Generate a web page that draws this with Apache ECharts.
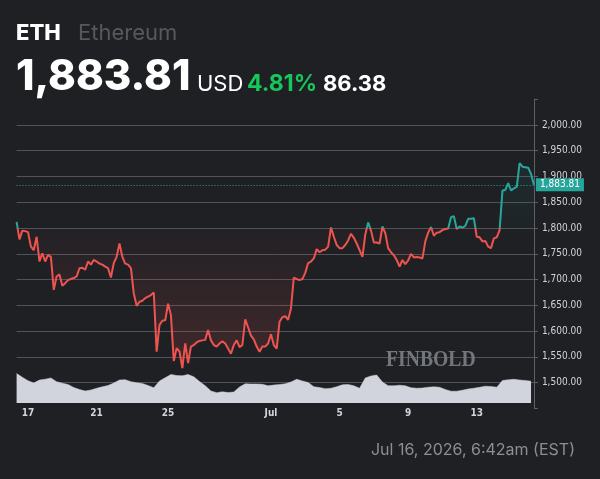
<!DOCTYPE html>
<html style="height: 100%" lang="en">

<head>
  <meta charset="utf-8">
  <script type="text/javascript" src="https://cdn.jsdelivr.net/npm/echarts@6/dist/echarts.min.js"></script>
</head>

<body style="height: 100%; margin: 0; background: #1e2024">
  <div id="container" style="height: 100%"></div>
  <script type="text/javascript">
    // ETH/USD, 4h steps from Jun 16 to Jul 16
    var prices = [
      1812, 1778, 1795, 1794, 1792, 1764, 1757, 1783, 1735, 1751,
      1735, 1748, 1744, 1680, 1706, 1710, 1688, 1693, 1699, 1701,
      1703, 1706, 1722, 1723, 1719, 1735, 1729, 1738, 1735, 1731,
      1729, 1725, 1722, 1704, 1732, 1744, 1770, 1744, 1731, 1729,
      1722, 1673, 1649, 1657, 1659, 1664, 1667, 1670, 1675, 1560,
      1612, 1620, 1621, 1653, 1631, 1542, 1567, 1560, 1528, 1576,
      1538, 1570, 1573, 1578, 1581, 1582, 1583, 1602, 1582, 1573,
      1570, 1576, 1580, 1576, 1566, 1556, 1573, 1582, 1569, 1573,
      1623, 1607, 1591, 1584, 1570, 1560, 1570, 1570, 1576, 1594,
      1573, 1566, 1618, 1627, 1629, 1622, 1644, 1704, 1701, 1699,
      1701, 1713, 1732, 1735, 1741, 1759, 1753, 1757, 1758, 1764,
      1801, 1783, 1767, 1761, 1761, 1767, 1776, 1789, 1781, 1770,
      1757, 1744, 1787, 1811, 1795, 1772, 1772, 1770, 1803, 1790,
      1761, 1753, 1747, 1738, 1725, 1738, 1730, 1737, 1750, 1743,
      1744, 1743, 1741, 1774, 1791, 1802, 1785, 1791, 1792, 1796,
      1798, 1799, 1821, 1823, 1798, 1803, 1801, 1804, 1818, 1818,
      1819, 1783, 1782, 1774, 1775, 1764, 1761, 1780, 1782, 1796,
      1873, 1874, 1887, 1873, 1877, 1880, 1926, 1919, 1918, 1917,
      1905, 1883.81
    ];
    // volume, one value per two price steps
    var volumes = [
      29.5, 25.7, 22.3, 20, 23, 23.8, 25, 21.3, 19.8, 18.5,
      15.5, 13.5, 12, 13, 14.7, 16.2, 17.5, 20, 23, 23.3,
      21.3, 20.3, 19.5, 17.5, 15.2, 22, 25.3, 28.5, 27.5, 27.2,
      28.5, 26.2, 21.5, 17.3, 12, 10.3, 11.2, 10.5, 11, 16,
      19.2, 19, 19, 18.7, 17.2, 18, 18.5, 19.2, 21, 23.7,
      22, 20.5, 16.3, 15.5, 14.3, 14.7, 16.3, 18.2, 18.5, 17.2,
      14.8, 25, 27, 28, 21, 17.3, 17.2, 17.8, 17.2, 15.3,
      14.7, 15, 15.8, 16.2, 15.7, 13.5, 11.8, 11.8, 12.8, 14,
      14.8, 15.7, 16.8, 16.5, 15.8, 22.5, 23.2, 23.7, 23, 22.5,
      21.8
    ];
    var tickLabels = ['17', '21', '25', 'Jul', '5', '9', '13'];
    var tickIndex = [4, 28, 53, 89, 113, 137, 161];
    var baseline = 1800;
    var lastPrice = 1883.81;

    var red = '#ef5350';
    var teal = '#26a69a';
    var textColor = '#d1d4dc';
    var gridColor = '#505358';
    var axisFont = '"Liberation Sans Narrow", "DejaVu Sans Condensed", sans-serif';

    function fmt(v) {
      return v.toLocaleString('en-US', { minimumFractionDigits: 2, maximumFractionDigits: 2 });
    }

    var cats = prices.map(function(p, i) { return String(i); });
    var labelAt = {};
    tickIndex.forEach(function(idx, k) { labelAt[idx] = tickLabels[k]; });

    var splitColors = [];
    for (var v = 1450; v <= 2050; v += 50) {
      splitColors.push(v < 1500 || v > 2000 ? 'rgba(0,0,0,0)' : gridColor);
    }

    var dom = document.getElementById("container");
    var myChart = echarts.init(dom);

    function head(text, left, top, size, color, weight) {
      return {
        text: text, left: left, top: top, padding: 0,
        textStyle: { color: color, fontSize: size, fontWeight: weight, fontFamily: 'Inter' }
      };
    }

    var option = {
      backgroundColor: '#1e2024',
      animation: false,
      title: [
        head('ETH', 16, 22, 22, '#ffffff', 800),
        head('Ethereum', 78, 22, 22, '#55585e', 'normal'),
        head('1,883.81', 16, 56, 42, '#ffffff', 800),
        head('USD', 197, 73, 22, '#ffffff', 'normal'),
        head('4.81%', 247, 73, 23, '#16c75a', 'bold'),
        head('86.38', 323, 73, 22, '#ffffff', 'bold'),
        {
          text: 'Jul 16, 2026, 6:42am (EST)', right: 25, top: 442, padding: 0,
          textStyle: { color: '#8b8e94', fontSize: 16, fontWeight: 'normal', fontFamily: 'Inter' }
        }
      ],
      graphic: [{
        type: 'text', left: 386, top: 348, z: 10, scaleX: 0.82,
        style: { text: 'FINBOLD', font: 'bold 24px "Liberation Serif"', fill: '#73767b' }
      }],
      visualMap: {
        show: false,
        seriesIndex: 0,
        dimension: 1,
        pieces: [
          { gte: 1000, lt: baseline, color: red },
          { gte: baseline, lte: 3000, color: teal }
        ]
      },
      grid: [
        { left: 16.6, width: 517.3, top: 99.2, height: 309.2 },
        { left: 16.6, width: 517.3, top: 371, height: 32 }
      ],
      xAxis: [{
        type: 'category', gridIndex: 0, data: cats, boundaryGap: false, show: false
      }, {
        type: 'category', gridIndex: 1, data: cats, boundaryGap: false,
        axisLine: { show: false }, axisTick: { show: false },
        axisLabel: {
          color: textColor, fontSize: 10, fontWeight: 'bold', margin: 5, fontFamily: axisFont,
          interval: function(i) { return labelAt[i] !== undefined; },
          formatter: function(val, i) { return labelAt[i] || ''; }
        }
      }],
      yAxis: [{
        type: 'value', gridIndex: 0, position: 'right',
        min: 1450, max: 2050, interval: 50,
        axisLine: { show: true, lineStyle: { color: '#5d6066' } },
        axisTick: { show: true, length: 4, lineStyle: { color: '#5d6066' } },
        axisLabel: {
          color: textColor, fontSize: 10, margin: 8, fontFamily: axisFont,
          formatter: function(v) { return (v < 1500 || v > 2000) ? '' : fmt(v); }
        },
        splitLine: { show: true, lineStyle: { color: splitColors, width: 1 } }
      }, {
        type: 'value', gridIndex: 1, min: 0, max: 32, show: false
      }],
      series: [{
        type: 'line',
        data: prices,
        symbol: 'none',
        z: 4,
        lineStyle: { width: 2 },
        markLine: {
          silent: true,
          symbol: ['none', 'none'],
          lineStyle: { color: teal, type: [1, 2], width: 1 },
          label: {
            position: 'end', distance: 2, formatter: fmt(lastPrice),
            color: '#ffffff', backgroundColor: teal, fontSize: 10, fontFamily: axisFont,
            padding: [2, 4, 1, 4]
          },
          data: [{ yAxis: lastPrice }]
        }
      }, {
        type: 'line',
        data: prices.map(function(p) { return Math.min(p, baseline); }),
        symbol: 'none', silent: true, z: 2,
        lineStyle: { width: 0, opacity: 0 },
        areaStyle: {
          origin: baseline,
          color: new echarts.graphic.LinearGradient(0, 0, 0, 1, [
            { offset: 0, color: 'rgba(239,83,80,0.03)' },
            { offset: 1, color: 'rgba(239,83,80,0.24)' }
          ])
        }
      }, {
        type: 'line',
        data: prices.map(function(p) { return Math.max(p, baseline); }),
        symbol: 'none', silent: true, z: 2,
        lineStyle: { width: 0, opacity: 0 },
        areaStyle: {
          origin: baseline,
          color: new echarts.graphic.LinearGradient(0, 0, 0, 1, [
            { offset: 0, color: 'rgba(38,166,154,0.14)' },
            { offset: 1, color: 'rgba(38,166,154,0.03)' }
          ])
        }
      }, {
        type: 'line',
        xAxisIndex: 1, yAxisIndex: 1,
        data: volumes.map(function(v, j) { return [2 * j, v]; }),
        symbol: 'none', silent: true, z: 3,
        lineStyle: { width: 0.5, color: '#d1d4dc' },
        areaStyle: { color: '#d1d4dc', opacity: 1 }
      }]
    };
    myChart.setOption(option);
  </script>
</body>

</html>
